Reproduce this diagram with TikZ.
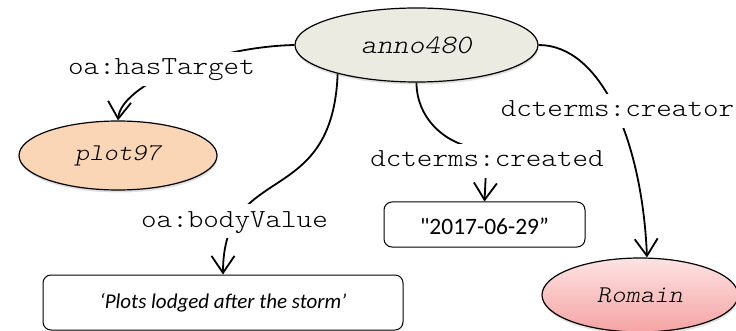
\documentclass[tikz,border=0pt]{standalone}
\usepackage{fontspec}
\setmainfont{Carlito}[Ligatures=TeXOff]
\setmonofont{lmmonolt10-regular.otf}[FakeStretch=1.14, ItalicFont=lmmonolt10-oblique.otf]
\usetikzlibrary{shapes.geometric,arrows.meta,shadows,backgrounds}
\definecolor{annofill}{HTML}{ECEBE1}
\definecolor{plotfill}{HTML}{FAD5B6}
\definecolor{persontop}{HTML}{FDE3E3}
\definecolor{personbottom}{HTML}{F5A3A3}
\tikzset{
    resource/.style = {draw=black, ellipse, line width=1.2pt, inner sep=0pt, font=\fontsize{24}{30}\selectfont\ttfamily\itshape, drop shadow={opacity=0.25, shadow xshift=0.5pt, shadow yshift=-2.5pt}},
    literal/.style = {draw=black, fill=white, rectangle, rounded corners=8pt, line width=1pt, inner sep=0pt},
    property/.style = {fill=white, inner xsep=4pt, inner ysep=6pt, text height=17pt, text depth=5pt, font=\fontsize{26}{30}\selectfont\ttfamily},
    link/.style = {line width=1.8pt, -{Straight Barb[length=17pt,width=23pt]}},
}

\begin{document}
\begin{tikzpicture}[x=1pt, y=-1pt]
\useasboundingbox (0,0) rectangle (736,331);

% resources and literals
\node [resource, fill=annofill, minimum width=243pt, minimum height=74pt, font=\fontsize{26.5}{30}\selectfont\ttfamily\itshape] (anno) at (416.5,45) {anno480};
\node [resource, fill=plotfill, minimum width=198pt, minimum height=69pt] (plot) at (118,155.5) {plot97};
\node [resource, top color=persontop, bottom color=personbottom, minimum width=196pt, minimum height=74pt] (romain) at (640,295) {Romain};
\node [literal, minimum width=201pt, minimum height=45pt, text height=21pt, font=\fontsize{23.5}{28}\selectfont] (date) at (484.5,224.5) {"2017-06-29”};
\node [literal, minimum width=360pt, minimum height=55pt, font=\fontsize{21}{25}\selectfont\itshape] (comment) at (223,302.5) {‘Plots lodged after the storm’};

% property labels, white so they cut the connectors
\node [property, anchor=base] (hastarget) at (161.5,75) {oa:hasTarget};
\node [property, anchor=base] (created) at (487,167) {dcterms:created};
\node [property, anchor=base] (creator) at (617.5,117) {dcterms:creator};
\node [property, anchor=base] (bodyvalue) at (234.5,227) {oa:bodyValue};

% connectors
\begin{scope}[on background layer]
\draw [link] (anno.west) .. controls +(-85,2) and +(3,-35) .. (plot.north);
\draw [link] (anno.south) to[out=-90, in=180] ([yshift=-5pt]created.north) -- (date.north);
\draw [link] (anno.east) .. controls +(62,0) and +(-5,-118) .. ([xshift=7pt]romain.north);
\draw [link] (anno.200) .. controls +(-5,137) and +(0,-114) .. (comment.north);
\end{scope}
\end{tikzpicture}
\end{document}
